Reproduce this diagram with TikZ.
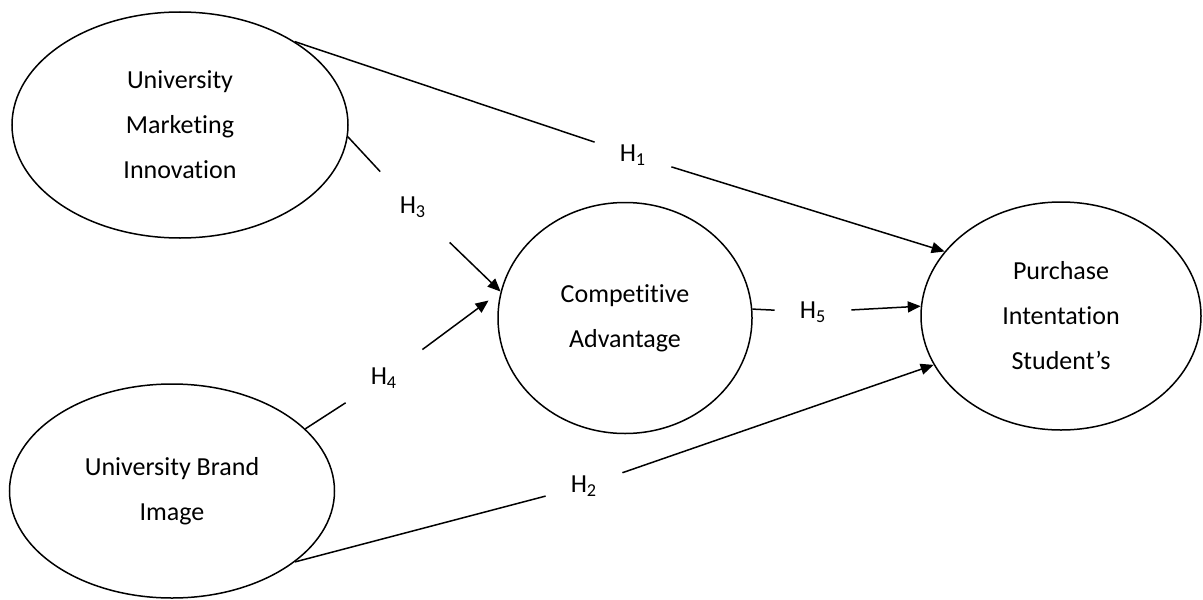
\documentclass[tikz,border=0pt]{standalone}
\usepackage{fontspec}
\setmainfont[Ligatures=NoCommon]{Carlito}
\usetikzlibrary{
  arrows.meta,
  positioning,
  shapes.geometric}
\tikzset{every picture/.style={font issue=\fontsize{13pt}{22.5pt}},
         font issue/.style={execute at begin picture={#1\selectfont}}
        }

\begin{document}
\begin{tikzpicture}[x=0.5pt, y=-0.5pt,
  construct/.style={ellipse, draw, line width=0.75pt, align=center, inner sep=0pt,
                    font=\fontsize{13pt}{22.5pt}\selectfont},
  hyp/.style={rectangle, minimum width=38pt, minimum height=35pt, inner sep=0pt},
  link/.style={line width=0.75pt},
  hypo/.style={link, -{Triangle[length=6.5pt, width=5.5pt]}}]
\useasboundingbox (0,0) rectangle (1203,599);

\node[construct, minimum width=168pt, minimum height=113pt](umi) at (180,125){University\\Marketing\\Innovation};
\node[construct, minimum width=162.5pt, minimum height=107pt](ubi) at (172,491){University Brand\\Image};
\node[construct, minimum width=127pt, minimum height=115.5pt](ca) at (625,318){Competitive\\Advantage};
\node[construct, minimum width=140pt, minimum height=114pt](pis) at (1061,316){Purchase\\Intentation\\Student’s};

%hypotheses
\node[hyp](h1) at (633,155){H\textsubscript{1}};
\node[hyp](h2) at (584,486){H\textsubscript{2}};
\node[hyp](h3) at (413,207){H\textsubscript{3}};
\node[hyp](h4) at (384,378){H\textsubscript{4}};
\node[hyp](h5) at (813,312){H\textsubscript{5}};

%lines
\draw[link] (umi.36) -- (h1);
\draw[hypo] (h1) -- (pis.151);
\draw[link] (ubi.-30) -- (h2);
\draw[hypo] (h2) -- (pis.201);
\draw[link] (umi.-4) -- (h3);
\draw[hypo] (h3) -- (ca.168);
\draw[link] (ubi.25) -- (h4);
\draw[hypo, shorten >=7.5pt] (h4) -- (ca.168);
\draw[link] (ca.4) -- (h5);
\draw[hypo] (h5) -- (pis.176);

\end{tikzpicture}
\end{document}
